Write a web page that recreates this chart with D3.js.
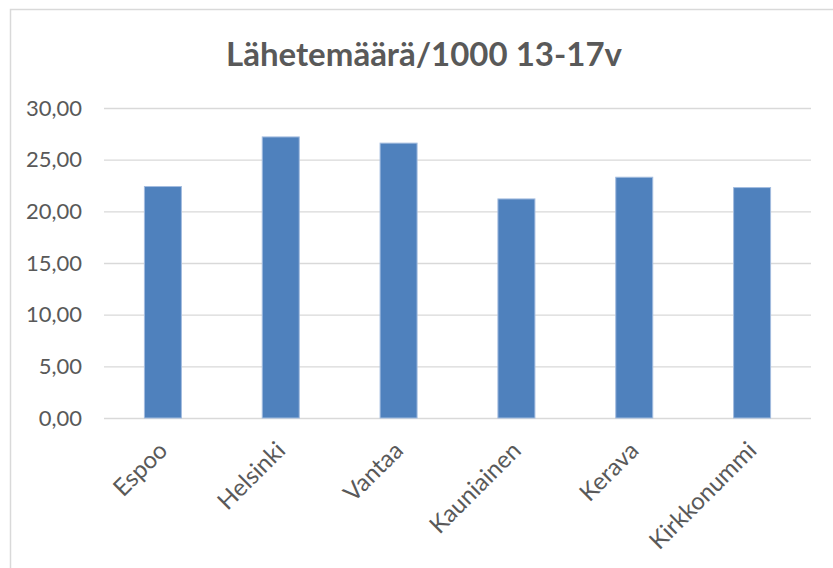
<!doctype html>
<html>
  <head>
    <meta charset="utf-8">
    <style>
      body { margin: 0; background: white; }
      text { font-family: Lato, "Noto Sans", sans-serif; fill: #595959; }
    </style>
    <script src="https://cdnjs.cloudflare.com/ajax/libs/d3/7.8.5/d3.min.js"></script>
  </head>
  <body>
    <div id="chart"></div>
    <script>
      var width = 833, height = 568;

      // data
      var kunnat = ["Espoo", "Helsinki", "Vantaa", "Kauniainen", "Kerava", "Kirkkonummi"];
      var lahetteet = [22.4, 27.2, 26.6, 21.2, 23.3, 22.3];
      var yTicks = [0, 5, 10, 15, 20, 25, 30];
      var title = "Lähetemäärä/1000 13-17v";

      var plot = {left: 104, right: 811, top: 108, bottom: 418};

      var svg = d3.select("#chart").append("svg")
                  .attr("width", width)
                  .attr("height", height);

      // chart frame (only top and left edge visible)
      svg.append("rect")
         .attr("x", 10.5).attr("y", 9.5)
         .attr("width", 900).attr("height", 700)
         .attr("fill", "white")
         .attr("stroke", "#d9d9d9")
         .attr("stroke-width", 1.5);

      var x = d3.scaleBand()
                .domain(kunnat)
                .range([plot.left, plot.right])
                .paddingInner(0.686)
                .paddingOuter(0.343);

      var y = d3.scaleLinear().domain([0, 30]).range([plot.bottom, plot.top]);

      var fmt = function(d) { return d3.format(".2f")(d).replace(".", ","); };

      // gridlines + tick labels
      var yAxis = d3.axisLeft(y)
                    .tickValues(yTicks)
                    .tickSize(-(plot.right - plot.left))
                    .tickPadding(22)
                    .tickFormat(fmt);

      var gy = svg.append("g")
                  .attr("transform", "translate(" + plot.left + ",0)")
                  .call(yAxis);
      gy.select(".domain").remove();
      gy.selectAll(".tick line").attr("stroke", "#d9d9d9").attr("stroke-width", 1.3);
      gy.selectAll(".tick text")
        .style("font-family", "Lato, sans-serif")
        .style("font-size", "22px")
        .attr("fill", "#595959");

      // bars
      svg.selectAll(".bar")
         .data(kunnat)
         .enter().append("rect")
         .attr("class", "bar")
         .attr("x", function(d) { return x(d); })
         .attr("y", function(d, i) { return y(lahetteet[i]); })
         .attr("width", x.bandwidth())
         .attr("height", function(d, i) { return y(0) - y(lahetteet[i]); })
         .attr("fill", "#4f81bd")
         .attr("stroke", "#a3bcdf")
         .attr("stroke-width", 1);

      // category labels, rotated
      var xAxis = d3.axisBottom(x).tickSize(0).tickPadding(0);
      var gx = svg.append("g")
                  .attr("transform", "translate(0," + plot.bottom + ")")
                  .call(xAxis);
      gx.select(".domain").remove();
      gx.selectAll(".tick text")
        .style("font-family", "Lato, sans-serif")
        .style("font-size", "24px")
        .attr("fill", "#595959")
        .attr("text-anchor", "end")
        .attr("dy", 0)
        .attr("transform", "translate(6,34) rotate(-45)");

      // title
      svg.append("text")
         .attr("x", 424)
         .attr("y", 66)
         .attr("text-anchor", "middle")
         .style("font-family", "Lato, sans-serif")
         .style("font-weight", "bold")
         .style("font-size", "33px")
         .attr("fill", "#595959")
         .text(title);
    </script>
  </body>
</html>
